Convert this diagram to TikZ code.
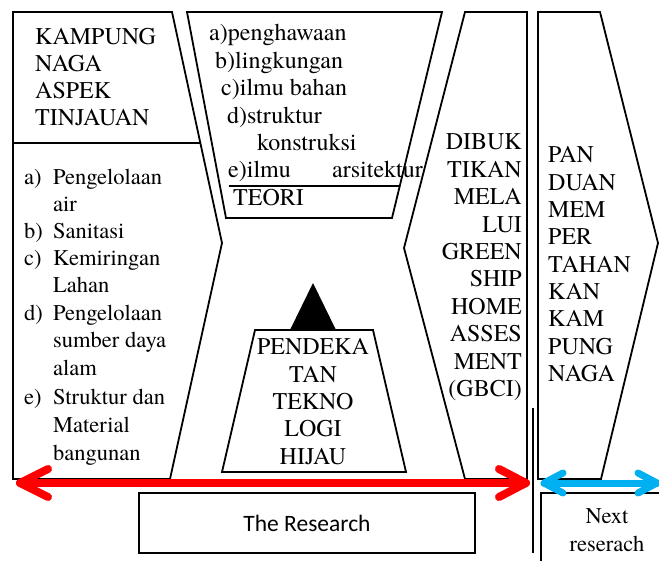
\documentclass[tikz,border=0pt]{standalone}
\usepackage{fontspec}
\setmainfont{texgyretermes}[Extension=.otf, UprightFont=*-regular, BoldFont=*-bold, ItalicFont=*-italic, BoldItalicFont=*-bolditalic]
\newfontfamily\calib{Carlito}
\definecolor{cyanb}{RGB}{0,176,240}
\tikzset{
  shp/.style={draw=black, line width=1.8pt, line join=miter},
  big/.style={font=\rmfamily\fontsize{24}{27}\selectfont, inner sep=0pt},
  lst/.style={font=\rmfamily\fontsize{22.5}{27}\selectfont, inner sep=0pt},
  redar/.style={draw=red, line width=8pt, line cap=round, line join=round},
  bluar/.style={draw=cyanb, line width=7pt, line cap=round, line join=round},
}
\begin{document}
\begin{tikzpicture}[x=1pt,y=-1pt]
\useasboundingbox (0,0) rectangle (659,561);
% left shape
\draw[shp] (13,12) -- (172,12) -- (222,243) -- (170,479) -- (13,479) -- cycle;
\draw[shp] (13,143) -- (200.4,143);
% theory trapezoid
\draw[shp] (187,12) -- (442,12) -- (392,218) -- (226,218) -- cycle;
\draw[shp] (228.5,186) -- (399.8,186);
% DIBUKTIKAN shape
\draw[shp] (465,12) -- (527,12) -- (527,479) -- (465,479) -- (404,248) -- cycle;
% PANDUAN shape
\draw[shp] (538,12) -- (600,12) -- (658,243) -- (601,479) -- (538,479) -- cycle;
% separator
\draw[line width=1.8pt] (533,408) -- (533,553);
% pyramid
\fill (313,283) -- (336,330) -- (290,330) -- cycle;
\draw[shp] (255,330) -- (373,330) -- (406,472) -- (222,472) -- cycle;
% boxes
\node[draw, line width=1.8pt, minimum width=336pt, minimum height=60pt, inner sep=0pt,
  font=\calib\fontsize{23.5}{27}\selectfont] (res) at (307,523) {The Research};
\draw[shp] (541,570) -- (541,493) -- (670,493);
\node[big, align=center, font=\rmfamily\fontsize{22.5}{27.5}\selectfont] (next) at (607,530) {Next\\reserach};
% texts
\foreach \t [count=\i from 0] in {KAMPUNG,NAGA,ASPEK,TINJAUAN}
  \node[big, anchor=base west] (k\i) at (35,45+27*\i) {\t};
\foreach \t/\y [count=\i] in {a)/185,b)/239,c)/266,d)/321,e)/404}
  \node[lst, anchor=base west] (la\i) at (24,\y) {\t};
\foreach \t/\y [count=\i] in {Pengelolaan/185,air/212,Sanitasi/239,Kemiringan/266,Lahan/293,Pengelolaan/321,sumber daya/348,alam/376,Struktur dan/404,Material/432,bangunan/460}
  \node[lst, anchor=base west] (lt\i) at (53,\y) {\t};
\foreach \t/\x/\y [count=\i] in {a)penghawaan/209/41,b)lingkungan/215/68.5,c)ilmu bahan/221/96,d)struktur/227/123.5,konstruksi/257/151,e)ilmu/228/178,arsitektur/332/178,TEORI/233/206}
  \node[big, anchor=base west] (t\i) at (\x,\y) {\t};
\foreach \t [count=\i from 0] in {DIBUK,TIKAN,MELA,LUI,GREEN,SHIP,HOME,ASSES,MENT,(GBCI)}
  \node[big, anchor=base east] (d\i) at (522,150+27.4*\i) {\t};
\foreach \t [count=\i from 0] in {PAN,DUAN,MEM,PER,TAHAN,KAN,KAM,PUNG,NAGA}
  \node[big, anchor=base west] (p\i) at (548,163+27.3*\i) {\t};
\foreach \t [count=\i from 0] in {PENDEKA,TAN,TEKNO,LOGI,HIJAU}
  \node[big, anchor=base] (g\i) at (313,355+27.3*\i) {\t};
% arrows
\coordinate (rL) at (20,483);
\coordinate (rR) at (526,483);
\draw[redar] (rL) -- (rR);
\draw[redar] ([shift={(28,-14)}]rL) -- (rL) -- ([shift={(28,14)}]rL);
\draw[redar] ([shift={(-27,-14)}]rR) -- (rR) -- ([shift={(-27,14)}]rR);
\coordinate (bL) at (544,483);
\coordinate (bR) at (657,483);
\draw[bluar] (bL) -- (bR);
\draw[bluar] ([shift={(19,-10)}]bL) -- (bL) -- ([shift={(19,10)}]bL);
\draw[bluar] ([shift={(-19,-10)}]bR) -- (bR) -- ([shift={(-19,10)}]bR);
\end{tikzpicture}
\end{document}
